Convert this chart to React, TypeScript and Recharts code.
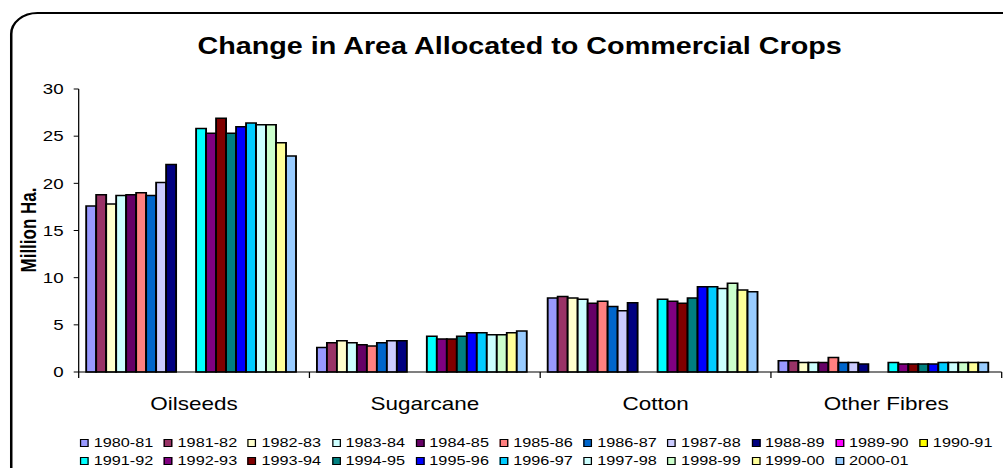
import { BarChart, Bar, XAxis, YAxis } from 'recharts';

const categories = ['Oilseeds', 'Sugarcane', 'Cotton', 'Other Fibres'];

const seasons = [
  '1980-81', '1981-82', '1982-83', '1983-84', '1984-85', '1985-86', '1986-87',
  '1987-88', '1988-89', '1989-90', '1990-91', '1991-92', '1992-93', '1993-94',
  '1994-95', '1995-96', '1996-97', '1997-98', '1998-99', '1999-00', '2000-01',
];

const seasonColors = [
  '#9999FF', '#993366', '#FFFFCC', '#CCFFFF', '#660066', '#FF8080', '#0066CC',
  '#CCCCFF', '#000080', '#FF00FF', '#FFFF00', '#00FFFF', '#800080', '#800000',
  '#008080', '#0000FF', '#00CCFF', '#CCFFFF', '#CCFFCC', '#FFFF99', '#99CCFF',
];

// million hectares per season; 1989-90 and 1990-91 not reported
const oilseeds = [17.6, 18.8, 17.8, 18.7, 18.8, 19.0, 18.7, 20.1, 22.0, null, null, 25.8, 25.3, 26.9, 25.3, 26.0, 26.4, 26.2, 26.2, 24.3, 22.9];
const sugarcane = [2.6, 3.1, 3.3, 3.1, 2.9, 2.75, 3.1, 3.3, 3.3, null, null, 3.8, 3.5, 3.5, 3.8, 4.15, 4.15, 3.95, 3.95, 4.15, 4.35];
const cotton = [7.85, 8.0, 7.85, 7.7, 7.3, 7.5, 6.95, 6.5, 7.35, null, null, 7.7, 7.5, 7.3, 7.85, 9.05, 9.05, 8.85, 9.4, 8.7, 8.5];
const otherFibres = [1.2, 1.2, 1.0, 1.0, 1.0, 1.55, 1.0, 1.0, 0.85, null, null, 1.0, 0.85, 0.85, 0.85, 0.85, 1.0, 1.0, 1.0, 1.0, 1.0];

const yTicks = [0, 5, 10, 15, 20, 25, 30];

const byCrop = [oilseeds, sugarcane, cotton, otherFibres];
const data = categories.map((name, i) => {
  const row: Record<string, string | number | null> = { name };
  seasons.forEach((s, j) => {
    row[s] = byCrop[i][j];
  });
  return row;
});

const FONT = '"Liberation Sans", Arial, sans-serif';
const CHART_W = 803;
const CHART_H = 468;
const MARGIN = { top: 89, right: 1, bottom: 66, left: 0 };
const Y_AXIS_W = 63;
const BAND = (CHART_W - MARGIN.left - MARGIN.right - Y_AXIS_W) / categories.length;

// category label centred in the band, tick marks on the band edges
const CategoryTick = (props: any) => {
  const { x, y, payload, index } = props;
  const axisY = y - 6;
  const left = x - BAND / 2;
  const right = x + BAND / 2;
  return (
    <g>
      <line x1={left} x2={left} y1={axisY} y2={axisY + 6} stroke="#000" />
      {index === categories.length - 1 && (
        <line x1={right} x2={right} y1={axisY} y2={axisY + 6} stroke="#000" />
      )}
      <text x={x} y={axisY + 38} textAnchor="middle" fontSize={18} fill="#000" fontFamily={FONT}>
        {payload.value}
      </text>
    </g>
  );
};

const YLabel = () => (
  <text
    x={29}
    y={230}
    transform="rotate(-90 29 230)"
    textAnchor="middle"
    fontSize={17}
    fontWeight="bold"
    fill="#000"
    fontFamily={FONT}
  >
    Million Ha.
  </text>
);

export default function App() {
  return (
    <div style={{ position: 'absolute', left: 0, top: 0, width: 1003, height: 468, overflow: 'hidden', background: '#fff' }}>
      <div
        style={{
          position: 'absolute',
          left: 0,
          top: 0,
          width: CHART_W,
          height: CHART_H,
          transform: 'scaleX(1.249)',
          transformOrigin: '0 0',
          fontFamily: FONT,
        }}
      >
        <div
          style={{
            position: 'absolute',
            left: 8,
            top: 12,
            width: 830,
            height: 500,
            border: '2px solid #000',
            borderRadius: 22,
          }}
        />
        <div
          style={{
            position: 'absolute',
            left: 0,
            top: 35,
            width: 832,
            textAlign: 'center',
            fontSize: 23,
            lineHeight: '23px',
            fontWeight: 'bold',
            color: '#000',
          }}
        >
          Change in Area Allocated to Commercial Crops
        </div>
        <div style={{ position: 'absolute', left: 0, top: 0 }}>
          <BarChart width={CHART_W} height={CHART_H} data={data} margin={MARGIN} barGap={0} barCategoryGap={6}>
            <XAxis
              dataKey="name"
              height={30}
              stroke="#000"
              tickLine={false}
              tickSize={6}
              tickMargin={0}
              tick={CategoryTick}
              interval={0}
            />
            <YAxis
              width={Y_AXIS_W}
              domain={[0, 30]}
              ticks={yTicks}
              stroke="#000"
              tickSize={4}
              tickMargin={8}
              tick={{ fill: '#000', fontSize: 15, fontFamily: FONT }}
              label={{ content: YLabel }}
            />
            {seasons.map((s, j) => (
              <Bar
                key={s}
                dataKey={s}
                fill={seasonColors[j]}
                stroke="#000"
                strokeWidth={1.5}
                isAnimationActive={false}
              />
            ))}
          </BarChart>
        </div>
        <div
          style={{
            position: 'absolute',
            left: 64,
            top: 434,
            width: 740,
            display: 'flex',
            flexWrap: 'wrap',
            fontSize: 13,
            lineHeight: '18px',
            color: '#000',
          }}
        >
          {seasons.map((s, j) => (
            <div key={s} style={{ width: 67.2, display: 'flex', alignItems: 'center' }}>
              <span
                style={{
                  display: 'inline-block',
                  width: 5,
                  height: 6,
                  background: seasonColors[j],
                  border: '1px solid #000',
                  marginRight: 4,
                }}
              />
              {s}
            </div>
          ))}
        </div>
      </div>
    </div>
  );
}
